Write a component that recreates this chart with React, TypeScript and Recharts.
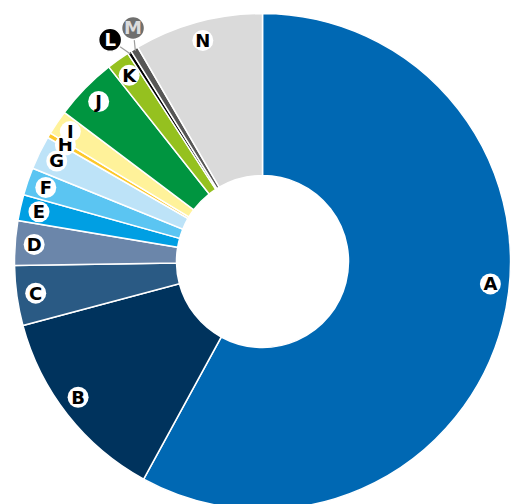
import React from "react";
import { PieChart, Pie, Cell } from "recharts";

const categories = ["A", "B", "C", "D", "E", "F", "G", "H", "I", "J", "K", "L", "M", "N"];
const shares = [58.0, 12.9, 3.9, 2.9, 1.7, 1.8, 2.2, 0.33, 1.6, 4.1, 1.5, 0.25, 0.5, 8.4];
const colors = [
  "#0068b3", "#00335d", "#2a5a84", "#6b86aa", "#009fe3", "#5bc5f2", "#bde3f8",
  "#fdc82a", "#fff29a", "#009540", "#95c11f", "#000000", "#575756", "#dadada",
];

const data = categories.map((name, i) => ({ name, value: shares[i] }));

const RAD = Math.PI / 180;

const renderLabel = (props: any) => {
  const { cx, cy, midAngle, outerRadius, index } = props;
  const name = categories[index];
  let angle = midAngle;
  let r = outerRadius - 19;
  let fill = "#ffffff";
  let textFill = "#000000";
  let lead = false;
  if (name === "A") angle = midAngle + 8.7;
  if (name === "B") angle = midAngle - 1.8;
  if (name === "I") r = outerRadius - 16;
  if (name === "L") {
    angle = 124.5;
    r = outerRadius + 21;
    fill = "#000000";
    textFill = "#ffffff";
    lead = true;
  }
  if (name === "M") {
    angle = 119;
    r = outerRadius + 19;
    fill = "#6f6f6e";
    textFill = "#dcdcdc";
    lead = true;
  }
  const x = cx + r * Math.cos(-angle * RAD);
  const y = cy + r * Math.sin(-angle * RAD);
  const ex = cx + (outerRadius - 2) * Math.cos(-midAngle * RAD);
  const ey = cy + (outerRadius - 2) * Math.sin(-midAngle * RAD);
  return (
    <g key={`lbl-${index}`}>
      {lead && <line x1={x} y1={y} x2={ex} y2={ey} stroke="#9d9d9c" strokeWidth={1.2} />}
      <circle cx={x} cy={y} r={lead ? 11.5 : 10.5} fill={fill} stroke="#ffffff" strokeWidth={lead ? 1.5 : 0} />
      <text
        x={x}
        y={y}
        dy={6.5}
        textAnchor="middle"
        fill={textFill}
        fontFamily="'DejaVu Sans', 'Open Sans', sans-serif"
        fontWeight={700}
        fontSize={18}
      >
        {name}
      </text>
    </g>
  );
};

export default function App() {
  return (
    <div style={{ position: "absolute", left: 0, top: 0, width: 529, height: 504, background: "#fff" }}>
      <PieChart width={529} height={504} margin={{ top: 0, right: 0, bottom: 0, left: 0 }}>
        <Pie
          data={data}
          dataKey="value"
          nameKey="name"
          cx={262.5}
          cy={261.5}
          innerRadius={86}
          outerRadius={248}
          startAngle={90}
          endAngle={-270}
          stroke="#ffffff"
          strokeWidth={1.5}
          isAnimationActive={false}
          labelLine={false}
          label={renderLabel}
        >
          {data.map((d, i) => (
            <Cell key={d.name} fill={colors[i]} />
          ))}
        </Pie>
      </PieChart>
    </div>
  );
}
